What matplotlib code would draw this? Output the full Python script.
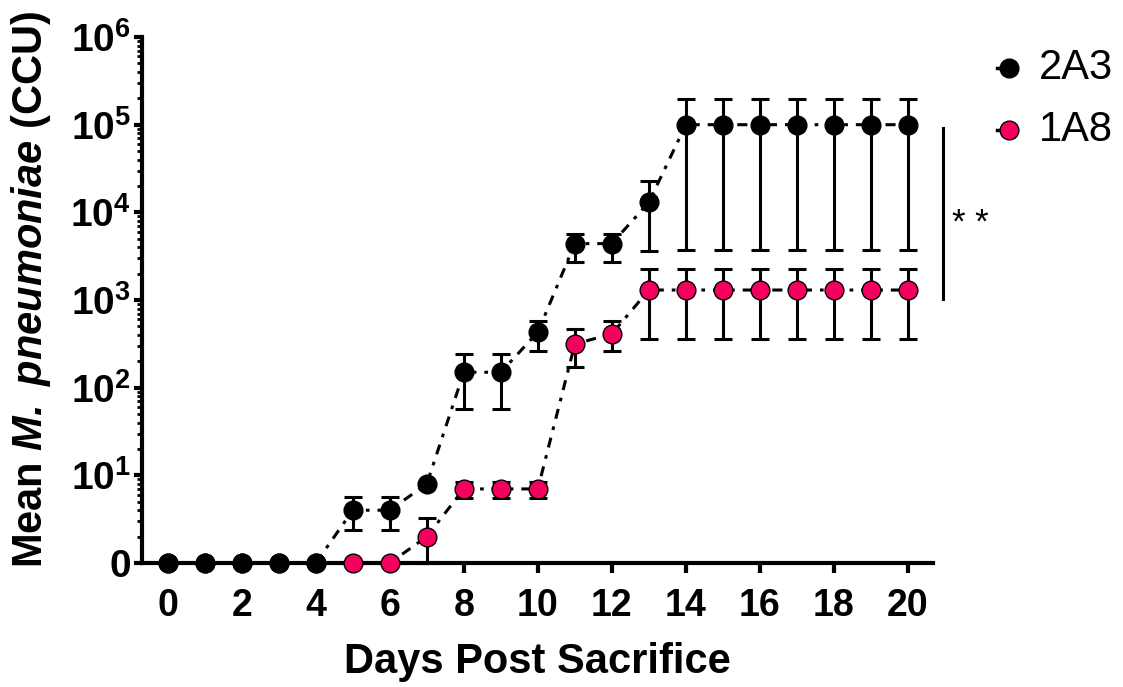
import numpy as np
import matplotlib
matplotlib.use("Agg")
import matplotlib.pyplot as plt
from matplotlib.ticker import FixedLocator, LogLocator, MultipleLocator, NullFormatter

plt.rcParams["font.family"] = ["Liberation Sans", "DejaVu Sans"]
plt.rcParams["mathtext.fontset"] = "custom"
plt.rcParams["mathtext.rm"] = "Liberation Sans"
plt.rcParams["mathtext.bf"] = "Liberation Sans:bold"
plt.rcParams["mathtext.it"] = "Liberation Sans:italic"
plt.rcParams["mathtext.bfit"] = "Liberation Sans:italic:bold"

# Donnees (0 affiche a 10^0)
days = np.arange(0, 21)

y_2a3 = [1, 1, 1, 1, 1, 4, 4, 8, 150, 150, 430, 4400, 4400, 13000,
         1e5, 1e5, 1e5, 1e5, 1e5, 1e5, 1e5]
lo_2a3 = [1, 1, 1, 1, 1, 2.4, 2.4, 8, 57, 57, 262, 2700, 2700, 3600,
          3700, 3700, 3700, 3700, 3700, 3700, 3700]
hi_2a3 = [1, 1, 1, 1, 1, 5.7, 5.7, 8, 240, 240, 575, 5600, 5600, 22700,
          196000, 196000, 196000, 196000, 196000, 196000, 196000]

y_1a8 = [1, 1, 1, 1, 1, 1, 1, 2, 7, 7, 7, 315, 410, 1300,
         1300, 1300, 1300, 1300, 1300, 1300, 1300]
lo_1a8 = [1, 1, 1, 1, 1, 1, 1, 1, 5.5, 5.5, 5.5, 170, 262, 360,
          360, 360, 360, 360, 360, 360, 360]
hi_1a8 = [1, 1, 1, 1, 1, 1, 1, 3.3, 8.4, 8.4, 8.4, 465, 575, 2250,
          2250, 2250, 2250, 2250, 2250, 2250, 2250]

labels = ["2A3", "1A8"]
colors = ["black", "#F5005F"]

ytick_vals = [1, 1e1, 1e2, 1e3, 1e4, 1e5, 1e6]
ytick_labels = [r"$\mathbf{0}$"] + [r"$\mathbf{10^{%d}}$" % k for k in range(1, 7)]

DASHDOT = (0, (3.3, 2.6, 1.2, 2.6))
LW = 2.2


def draw_series(ax, y, lo, hi, color, z):
    y = np.array(y, dtype=float)
    yerr = [y - np.array(lo), np.array(hi) - y]
    ax.errorbar(days, y, yerr=yerr, fmt="none", ecolor="black", elinewidth=LW,
                capsize=6.5, capthick=LW, zorder=z, clip_on=False)
    ax.plot(days, y, color="black", lw=LW, linestyle=DASHDOT, zorder=z + 0.5,
            clip_on=False)
    ax.plot(days, y, linestyle="none", marker="o", ms=13.5, mfc=color, mec="black",
            mew=1.0, zorder=z + 1, clip_on=False)


fig = plt.figure(figsize=(11.23, 6.87), dpi=100)
ax = fig.add_axes([0.1264, 0.1805, 0.7044, 0.7656])

draw_series(ax, y_1a8, lo_1a8, hi_1a8, colors[1], 3)
draw_series(ax, y_2a3, lo_2a3, hi_2a3, colors[0], 5)

ax.set_yscale("log")
ax.set_ylim(1, 1e6)
ax.set_xlim(-0.7, 20.68)

ax.yaxis.set_major_locator(FixedLocator(ytick_vals))
ax.set_yticklabels(ytick_labels)
ax.yaxis.set_minor_locator(LogLocator(base=10, subs=np.arange(2, 10)))
ax.yaxis.set_minor_formatter(NullFormatter())

ax.xaxis.set_major_locator(MultipleLocator(2))
ax.xaxis.set_minor_locator(MultipleLocator(0.4))

for s in ["top", "right"]:
    ax.spines[s].set_visible(False)
for s in ["left", "bottom"]:
    ax.spines[s].set_linewidth(3)

ax.tick_params(axis="y", which="major", length=6, width=3, labelsize=28, pad=2)
ax.tick_params(axis="y", which="minor", length=3.5, width=2)
ax.tick_params(axis="x", which="major", length=7, width=3, labelsize=27, pad=11)
ax.tick_params(axis="x", which="minor", length=1.5, width=1.5, direction="inout")
for t in ax.get_xticklabels():
    t.set_fontweight("bold")

ax.set_xlabel("Days Post Sacrifice", fontsize=30, fontweight="bold", labelpad=13)
ax.set_ylabel(r"Mean $\mathbfit{M.}$ $\mathbfit{pneumoniae}$ (CCU)", fontsize=30,
              fontweight="bold")
ax.yaxis.set_label_coords(-0.112, 0.52)

# barre de significativite
ax.plot([20.95, 20.95], [y_2a3[-1] * 0.92, y_1a8[-1] * 0.8], color="black",
        lw=2.2, clip_on=False)
ax.text(21.2, 7500, "* *", fontsize=25, va="center", ha="left")

# legende manuelle
for i, (lab, col) in enumerate(zip(labels, colors)):
    yy = 0.901 - i * 0.0903
    fig.lines.append(plt.Line2D([0.888, 0.8985], [yy, yy], color="black", lw=2.5,
                                transform=fig.transFigure))
    fig.lines.append(plt.Line2D([0.8985], [yy], marker="o", ms=13.5, mfc=col,
                                mec="black", mew=1.0, transform=fig.transFigure))
    fig.text(0.925, yy, lab, fontsize=30, va="center", ha="left")

fig.savefig("out.png", dpi=100)
